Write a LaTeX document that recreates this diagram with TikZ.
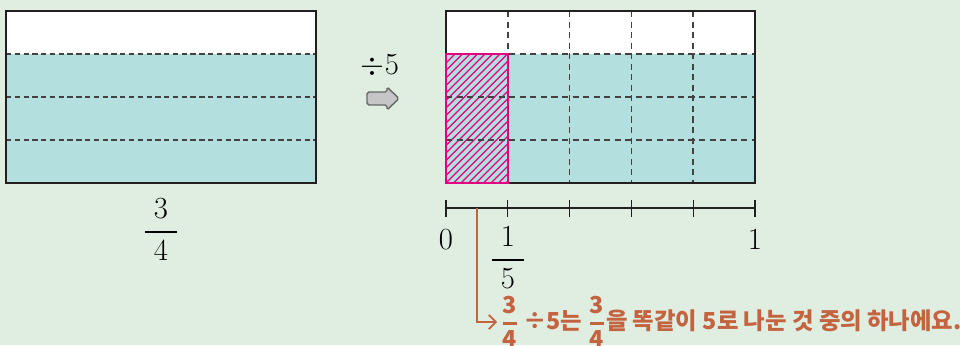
\documentclass[tikz,border=0pt]{standalone}
\usepackage{fix-cm}
\usepackage{amsmath}
\usepackage{fontspec}
\usetikzlibrary{arrows.meta}
\newfontfamily\kor{Noto Sans CJK KR}
\definecolor{bgcol}{HTML}{DFEEE1}
\definecolor{tealcol}{HTML}{B3DFDF}
\definecolor{pinkcol}{HTML}{E4007F}
\definecolor{notecol}{HTML}{C3633F}
\definecolor{linecol}{HTML}{231F20}
\newcommand{\notefrac}[2]{$\genfrac{}{}{1.2pt}{0}{\mbox{#1}}{\mbox{#2}}$}

\tikzset{
  box/.style={draw=linecol, line width=1.1pt},
  cut/.style={draw=linecol!85, line width=0.8pt, dash pattern=on 3pt off 2pt},
  widecut/.style={draw=linecol!85, line width=1pt, dash pattern=on 3.5pt off 2.5pt},
  note/.style={text=notecol, font=\kor\bfseries\fontsize{13.3}{15}\selectfont, inner sep=2pt}
}

\begin{document}
\begin{tikzpicture}[x=0.02cm, y=-0.02cm, font=\fontsize{17.5}{20}\selectfont]
\useasboundingbox[fill=bgcol] (0,0) rectangle (960,345);

% === Left: three quarters ===
\fill[white] (6,11) rectangle (316,54);
\fill[tealcol] (6,54) rectangle (316,183);
\foreach \y in {54,97,140}
  \draw[cut] (6,\y) -- (316,\y);
\draw[box] (6,11) rectangle (316,183);
\node (lfrac) at (161,230) {$\dfrac{\;3\;}{\;4\;}$};

% === Divide by 5 ===
\node (div) at (380,66) {$\div 5$};
\draw[fill=gray!45, draw=gray!80!black, line width=0.8pt, rounded corners=1pt]
  (367,92) -- (387,92) -- (387,87) -- (399,98.5) -- (387,110) -- (387,105) -- (367,105) -- cycle;

% === Right: each quarter split into fifths ===
\fill[white] (446,11) rectangle (755,54);
\fill[tealcol] (446,54) rectangle (755,183);
% hatched part
\begin{scope}
  \clip (446,54) rectangle (508,183);
  \foreach \k in {-18,...,9}
    \draw[pinkcol, line width=0.7pt] (446+\k*7.5,183) -- ++(140,-140);
\end{scope}
\foreach \y in {54,97,140}
  \draw[widecut] (446,\y) -- (755,\y);
\foreach \i in {1,...,4} {
  \pgfmathsetmacro{\xc}{446+\i*61.8}
  \draw[widecut] (\xc,11) -- (\xc,183);
}
\draw[box] (446,11) rectangle (755,183);
\draw[pinkcol, line width=1.4pt] (446,54) rectangle (508,183);

% === Number line ===
\draw[linecol, line width=0.9pt] (446,208) -- (755,208);
\foreach \i in {0,...,5} {
  \pgfmathsetmacro{\xt}{446+\i*61.8}
  \draw[linecol, line width=0.7pt] (\xt,200) -- (\xt,217);
}
\node (zero) at (446,240) {$0$};
\node (one) at (755,240) {$1$};
\node (fifth) at (508,258) {$\dfrac{\;1\;}{\;5\;}$};

% === Note ===
\coordinate (mark) at (477,208);
\node[note, anchor=west] (note) at (497,322)
  {\notefrac{3}{4}\,÷5는 \notefrac{3}{4}을 똑같이 5로 나눈 것 중의 하나에요.};
\draw[notecol, line width=1pt, -{Straight Barb[length=4pt]}] (mark) |- (note.west);

\end{tikzpicture}
\end{document}
